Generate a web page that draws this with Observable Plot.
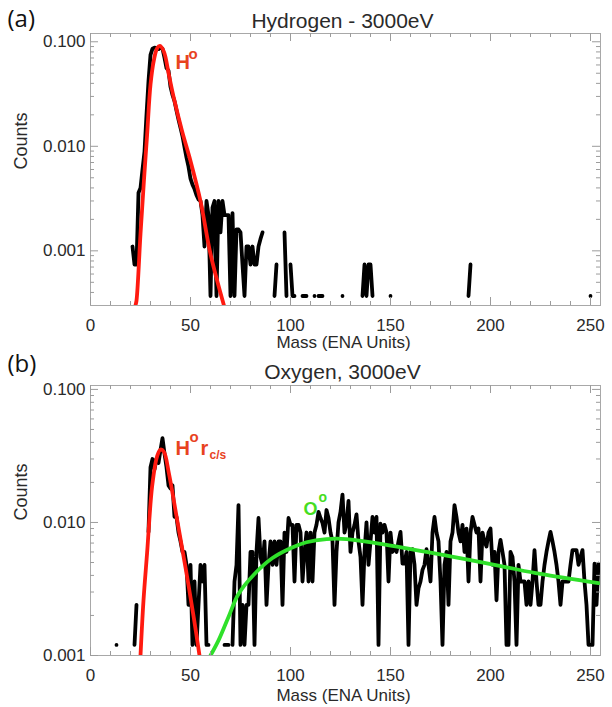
<!DOCTYPE html>
<html><head><meta charset="utf-8">
<script src="https://cdn.jsdelivr.net/npm/d3@7"></script>
<script src="https://cdn.jsdelivr.net/npm/@observablehq/plot@0.6"></script>
<style>
html,body{margin:0;padding:0;background:#fff;}
#chart{position:relative;width:612px;height:707px;overflow:hidden;background:#fff;}
#chart svg{display:block;position:absolute;left:0;}
</style></head><body><div id="chart"></div>
<script>
// ---------- tick labels ----------
const xMajor = [0, 50, 100, 150, 200, 250];
const yMajor = [0.001, 0.01, 0.1];

// ---------- panel (a): Hydrogen - 3000eV, measured counts (null = empty bin / gap) ----------
const topMass = [21,22,23,24,25,26,27,28,29,30,31,32,33,34,35,36,37,38,39,40,
  41,42,43,44,45,46,47,48,49,50,51,52,53,54,55,56,57,58,59,60,
  61,62,63,64,65,66,67,68,69,70,71,72,73,74,75,76,77,78,79,80,
  81,82,83,84,85,86,87,
  92,93,94, 97,98,99, 100,101,102,103, 106,107,108,109, 112,113, 114,115,116,117,
  126,127, 136,137,138,139,140,141,142, 150,151, 189,190,191, 250];
const topCounts = [0.0011,0.00074,0.00074,0.0036,0.0040,0.0060,0.0089,0.020,0.042,0.075,
  0.086,0.088,0.087,0.085,0.088,0.086,0.070,0.056,0.053,0.037,
  0.031,0.027,0.022,0.018,0.015,0.0125,0.0098,0.0078,0.0064,0.0049,
  0.0043,0.0039,0.0034,0.0031,0.0030,0.0022,0.0011,0.0030,0.0022,0.00037,
  0.0026,0.0030,0.00037,0.0030,0.0015,0.0030,0.0022,0.0022,0.0022,0.00037,
  0.0023,0.00037,0.0016,0.0016,0.0015,0.00074,0.00037,0.0011,0.0011,0.00074,
  0.0011,0.00074,0.00074,0.0011,0.0013,0.0015,null,
  0.00037,0.00074,null, 0.0015,0.00037,null, 0.00074,0.00037,0.00037,null,
  0.00037,0.00037,0.00037,null, 0.00037,null, 0.00037,0.00037,0.00037,null,
  0.00037,null, 0.00037,0.00074,0.00037,0.00074,0.00074,0.00037,null,
  0.00037,null, 0.00037,0.00074,null, 0.00037];

// H0 fit, panel (a)
const topFitMass = [22.5,23,25,26.7,28.3,30,31.7,33.3,34.7,36.7,39.2,41.7,45.8,50,55,60,66.7];
const topFitCounts = [0.000302,0.000334,0.00145,0.00465,0.0129,0.0389,0.0668,0.0865,0.0912,
  0.0804,0.0482,0.0288,0.0139,0.00724,0.00299,0.000933,0.000302];

// ---------- panel (b): Oxygen, 3000eV, measured counts for mass 13..254 ----------
const botStart = 13;
const botCounts = [
  0.0012,null,null,null,null,null,null,null,null,0.0012,            // 13-22
  0.0024,null,null,null,null,null,0.0085,0.026,0.030,0.025,         // 23-32
  0.030,0.028,0.035,0.043,0.033,0.026,0.019,0.018,0.019,0.011,      // 33-42
  0.011,0.0084,0.0072,0.0060,0.0060,0.0048,0.0024,0.0048,0.0012,0.0036, // 43-52
  0.0012,0.0024,0.0048,0.0036,0.0048,0.0012,0.0012,null,null,null,  // 53-62
  null,null,null,null,0.0012,0.0012,0.0012,null,0.0012,0.0036,      // 63-72
  0.0048,0.0135,0.0012,0.0024,0.0012,0.0024,0.0024,0.0060,0.0060,0.0012, // 73-82
  0.0060,0.0108,0.0055,0.0048,0.0072,0.0024,0.0048,0.0072,0.0048,0.0072, // 83-92
  0.0048,0.0072,0.0072,0.0024,0.0084,0.0060,0.0108,0.0096,0.0096,0.0036, // 93-102
  0.0096,0.0096,0.0084,0.0036,0.0060,0.0084,0.0036,0.0084,0.0036,0.0084, // 103-112
  0.0096,0.0120,0.0108,0.0099,0.0084,0.0124,0.0108,0.0084,0.0072,0.0024, // 113-122
  0.0060,0.0100,0.0120,0.0162,0.0084,0.0098,0.0145,0.0060,0.0084,0.0096, // 123-132
  0.0115,0.0072,0.0055,0.0024,0.0060,0.0100,0.0048,0.0072,0.0110,0.0084, // 133-142
  0.0110,0.0012,0.0098,0.0084,0.0096,0.0084,0.0036,0.0084,0.0060,0.0066, // 143-152
  0.0060,0.0072,0.0085,0.0049,0.0049,0.0060,0.0012,0.0060,0.0063,0.0048, // 153-162
  0.0024,0.0032,0.0036,0.0044,0.0048,0.0063,0.0048,0.0036,0.0084,0.0110, // 163-172
  0.0084,0.0072,0.0036,0.0012,0.0048,0.0060,0.0024,0.0072,0.0084,0.0135, // 173-182
  0.0110,0.0084,0.0072,0.0096,0.0060,0.0090,0.0036,0.0084,0.0110,0.0096, // 183-192
  0.0084,0.0090,0.0036,0.0084,0.0072,0.0066,0.0084,0.0090,0.0048,0.0060, // 193-202
  0.0026,0.0060,0.0074,0.0060,0.0048,0.0012,0.0012,0.0060,0.0055,0.0036, // 203-212
  0.0012,0.0048,0.0036,0.0036,0.0036,0.0024,0.0036,0.0024,0.0036,0.0062, // 213-222
  0.0036,0.0024,0.0024,0.0036,0.0048,0.0060,0.0072,0.0085,0.0072,0.0060, // 223-232
  0.0048,0.0036,0.0024,0.0036,0.0036,0.0036,0.0036,0.0048,0.0062,0.0062, // 233-242
  0.0062,0.0048,0.0055,0.0062,0.0036,0.0024,0.0012,0.0012,0.0012,0.0049, // 243-252
  0.0024,0.0049                                                          // 253-254
];

// H0 r_c/s fit, panel (b)
const botHFitMass = [25,26.5,28.3,30.8,33.3,35,36.7,39.2,43.3,47.5,51.7,54.5];
const botHFitCounts = [0.001,0.0026,0.0059,0.0186,0.0314,0.0353,0.034,0.0234,0.0105,0.0046,0.0019,0.001];
// O0 fit, panel (b)
const botOFitMass = [60,64,69,74,82,91,100,108,118,128,145,168,190,208,225,254];
const botOFitCounts = [0.001,0.0013,0.00195,0.0029,0.0041,0.0054,0.0064,0.0071,0.0075,0.0075,
  0.0069,0.0060,0.0052,0.0046,0.0041,0.0035];

// ---------- build tables ----------
const zipMV = (ms, vs) => ms.map((m, i) => ({m, v: vs[i]}));
const topBlack = zipMV(topMass, topCounts);
const topFit = zipMV(topFitMass, topFitCounts);
const botBlack = botCounts.map((v, i) => ({m: botStart + i, v}));
const botHFit = zipMV(botHFitMass, botHFitCounts);
const botOFit = zipMV(botOFitMass, botOFitCounts);

const RED = "#ff1a10", RED_TXT = "#e8431f", GREEN = "#2fe02a", GREEN_TXT = "#46dd22";
const xMinor = d3.range(10, 256, 10).filter(v => v % 50 !== 0);

function lab(t, m, v, size, color, weight = "bold") {
  return Plot.text([t], {x: () => m, y: () => v, text: d => d, fill: color, fontSize: size,
    fontWeight: weight, textAnchor: "start", lineAnchor: "bottom", fontFamily: "Liberation Sans, Arial, sans-serif"});
}

function makePanel(cfg) {
  const W = 612, ML = 90, MR = 12;
  const plotW = W - ML - MR;
  const plotH = cfg.height - cfg.marginTop - cfg.marginBottom;
  const [y0, y1] = cfg.yDomain;
  const yMinor = [];
  for (const d of [1e-4, 1e-3, 1e-2]) for (let k = 2; k <= 9; k++) {
    const v = k * d; if (v > y0 * 1.0001 && v < y1) yMinor.push(v);
  }
  const tc = "#9c9c9c", MAJ = 8, MIN = 4;
  const svg = Plot.plot({
    width: W, height: cfg.height,
    marginLeft: ML, marginRight: MR, marginTop: cfg.marginTop, marginBottom: cfg.marginBottom,
    x: {domain: [0, 255]},
    y: {type: "log", domain: cfg.yDomain},
    style: {fontFamily: "Liberation Sans, Arial, sans-serif", color: "#2a2a2a", background: cfg.bg},
    marks: [
      Plot.line(cfg.black, {x: "m", y: "v", stroke: "#000", strokeWidth: 3.8, clip: true}),
      ...cfg.fits.map(f => Plot.line(f.data, {x: "m", y: "v", stroke: f.color, strokeWidth: 3.8, curve: "catmull-rom", clip: true})),
      Plot.frame({stroke: "#a8a8a8"}),
      Plot.tickX(xMinor, {stroke: tc, insetTop: plotH - MIN}),
      Plot.tickX(xMinor, {stroke: tc, insetBottom: plotH - MIN}),
      Plot.tickX(xMajor, {stroke: tc, insetTop: plotH - MAJ}),
      Plot.tickX(xMajor, {stroke: tc, insetBottom: plotH - MAJ}),
      Plot.tickY(yMinor, {stroke: tc, insetRight: plotW - MIN}),
      Plot.tickY(yMinor, {stroke: tc, insetLeft: plotW - MIN}),
      Plot.tickY(yMajor, {stroke: tc, insetRight: plotW - MAJ}),
      Plot.tickY(yMajor, {stroke: tc, insetLeft: plotW - MAJ}),
      Plot.axisX({ticks: xMajor, tickSize: 0, tickPadding: 13, fontSize: 17, label: null}),
      Plot.axisY({ticks: yMajor, tickFormat: d3.format(".3f"), tickSize: 0, tickPadding: 5, fontSize: 17, label: null}),
      Plot.text([cfg.title], {text: d => d, frameAnchor: "top", dx: -3, dy: cfg.titleDy, lineAnchor: "bottom", fontSize: 21}),
      Plot.text([cfg.tag], {text: d => d, frameAnchor: "top-left", textAnchor: "start", lineAnchor: "bottom",
        dx: -83, dy: cfg.tagDy, fontSize: 24, fontFamily: "Open Sans, sans-serif", fill: "#111"}),
      Plot.text(["Counts"], {text: d => d, frameAnchor: "left", rotate: -90, dx: -69, fontSize: 18}),
      Plot.text(["Mass (ENA Units)"], {text: d => d, frameAnchor: "bottom", dx: -2, dy: cfg.massDy, lineAnchor: "bottom", fontSize: 17}),
      ...cfg.labels
    ]
  });
  svg.style.top = cfg.top + "px";
  return svg;
}

const chart = document.getElementById("chart");
chart.appendChild(makePanel({
  top: 0, height: 362, marginTop: 33, marginBottom: 57, bg: "#fff",
  yDomain: [0.0003, 0.12],
  title: "Hydrogen - 3000eV", titleDy: -6, tag: "(a)", tagDy: -7, massDy: 42.5,
  black: topBlack,
  fits: [{data: topFit, color: RED}],
  labels: [lab("H", 42.5, 0.055, 20, RED_TXT), lab("o", 49, 0.069, 15, RED_TXT)]
}));
chart.appendChild(makePanel({
  top: 340, height: 367, marginTop: 45, marginBottom: 52, bg: "transparent",
  yDomain: [0.001, 0.107],
  title: "Oxygen, 3000eV", titleDy: -7, tag: "(b)", tagDy: -14, massDy: 45,
  black: botBlack,
  fits: [{data: botHFit, color: RED}, {data: botOFit, color: GREEN}],
  labels: [
    lab("H", 42.5, 0.0324, 20, RED_TXT), lab("o", 49.5, 0.040, 15, RED_TXT),
    lab("r", 55, 0.0324, 20, RED_TXT), lab("c/s", 59.5, 0.0300, 12, RED_TXT),
    lab("O", 106.5, 0.0114, 18, GREEN_TXT), lab("o", 114, 0.0142, 14, GREEN_TXT)
  ]
}));
</script></body></html>
